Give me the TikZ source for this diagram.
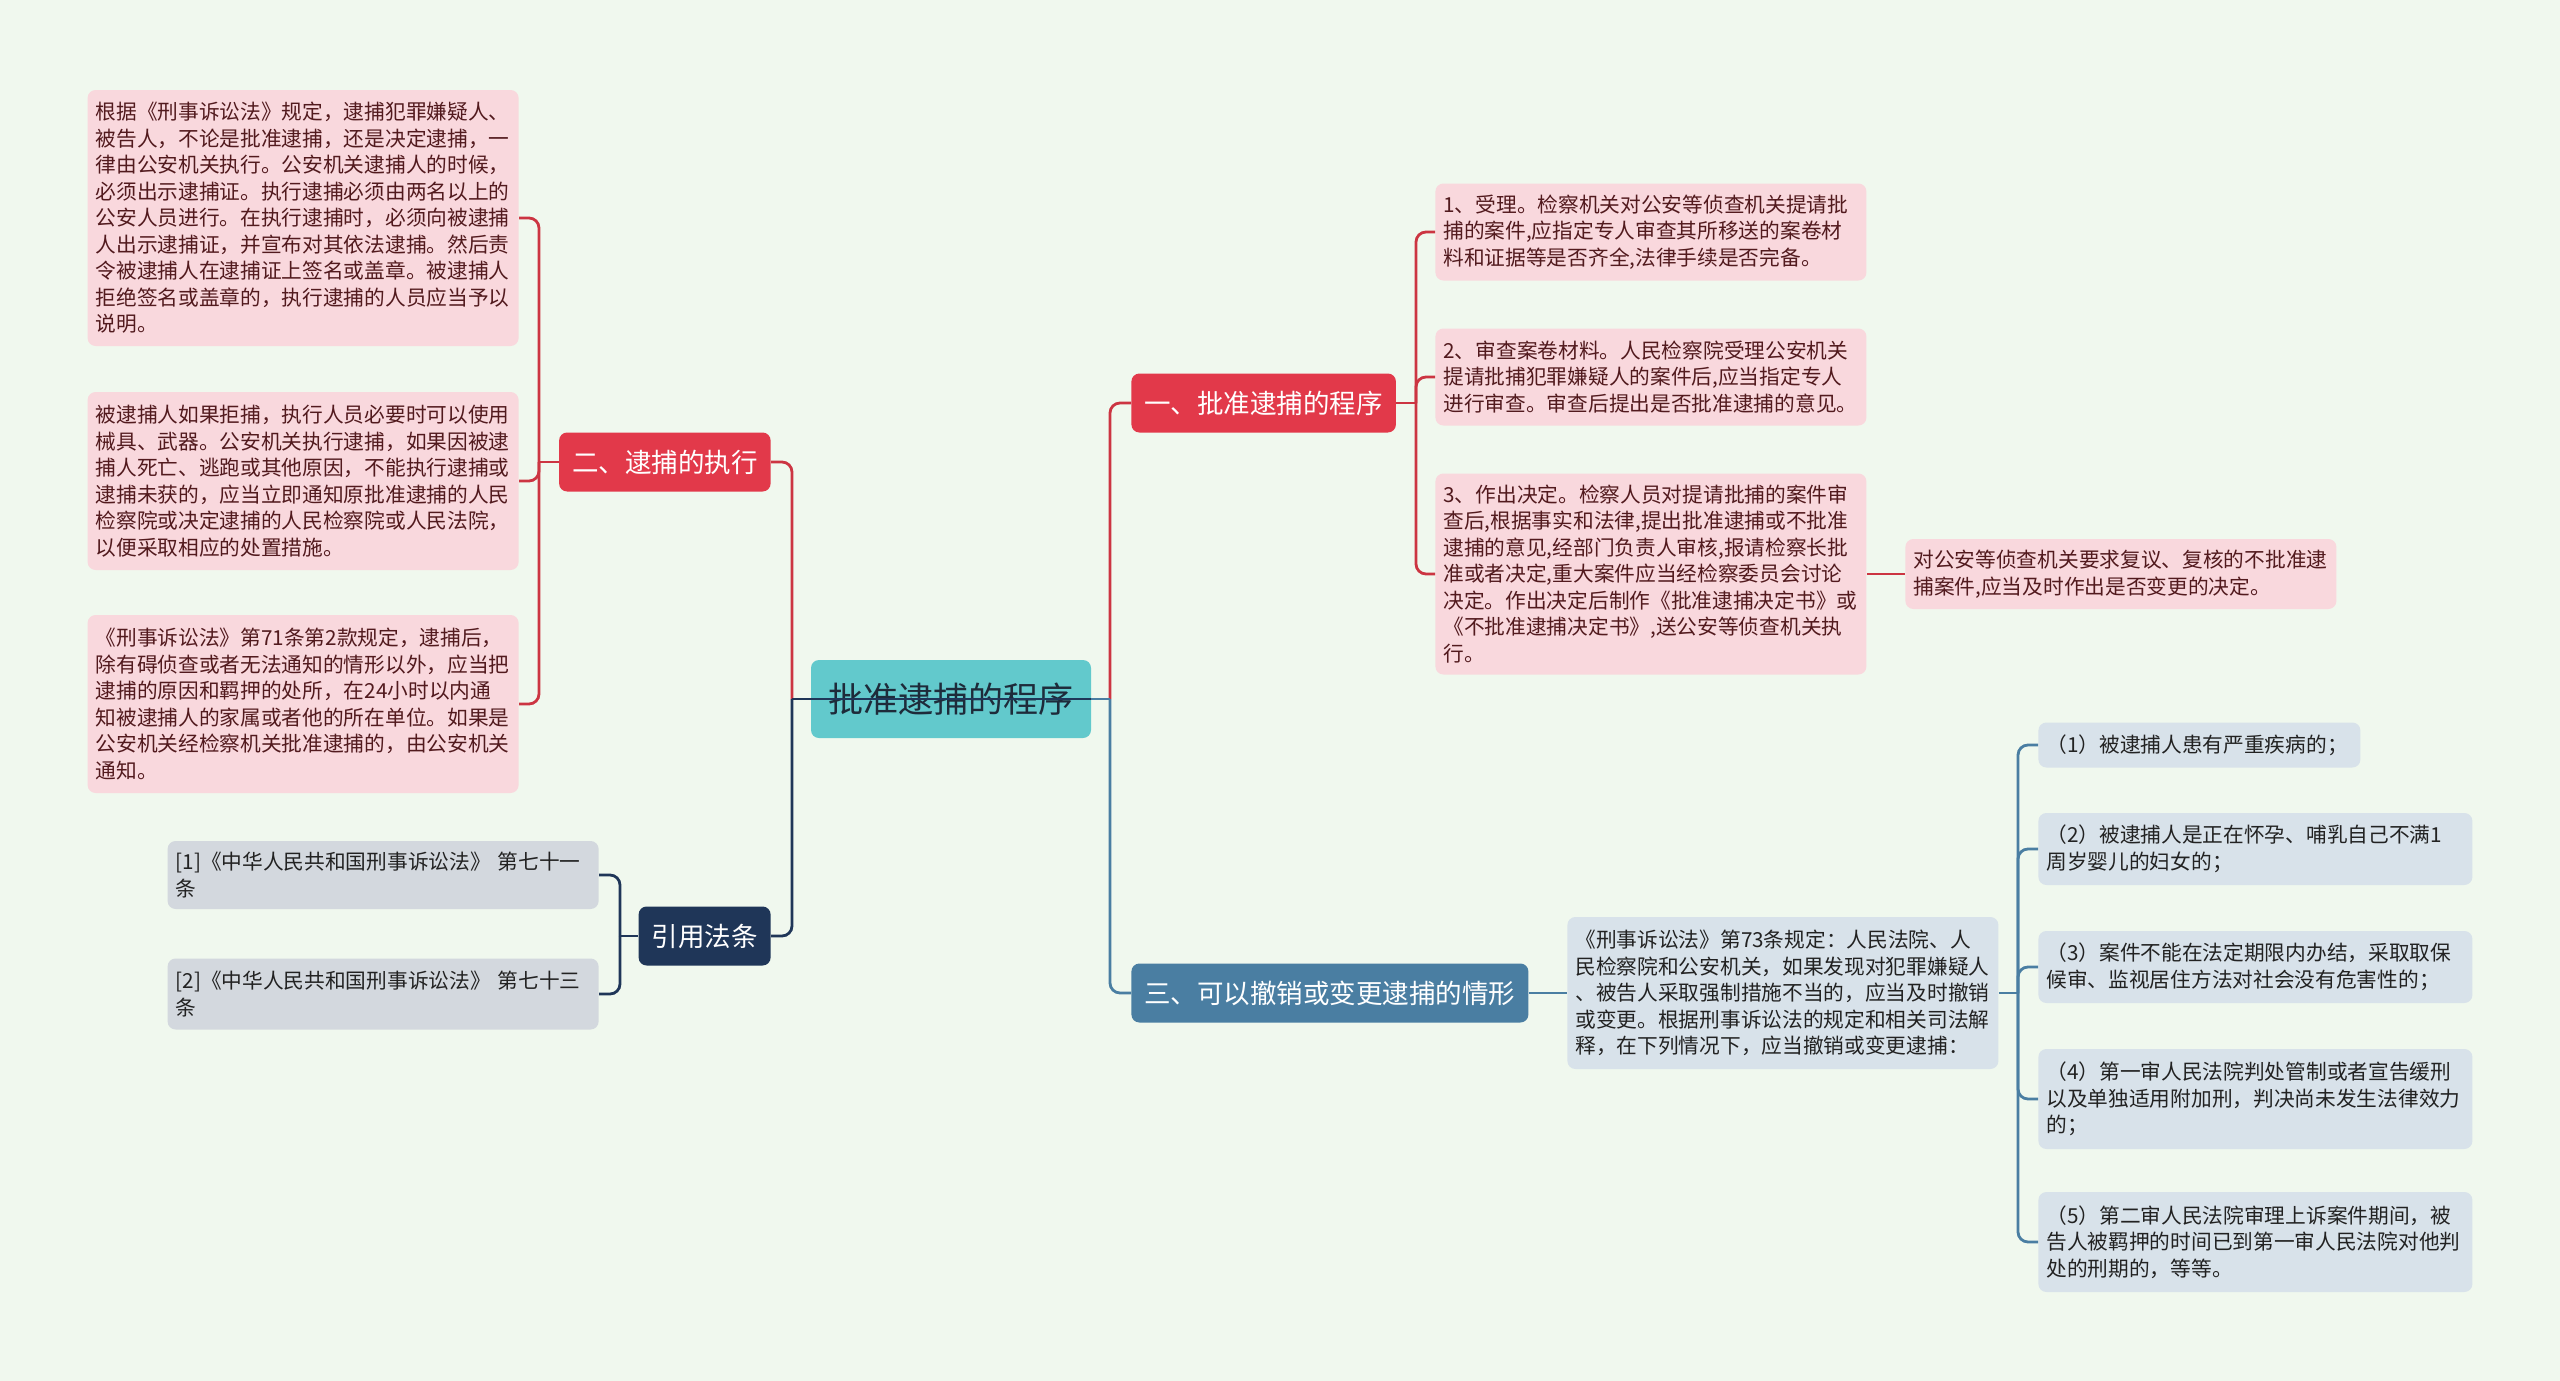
\documentclass[tikz,border=0pt]{standalone}
\usepackage{fontspec}
\setmainfont{Noto Sans CJK SC}
\usepackage{tikz}
\definecolor{bgcol}{HTML}{F0F8EE}
\definecolor{rootfill}{HTML}{62C9CC}
\definecolor{roottext}{HTML}{1E2B3A}
\definecolor{redfill}{HTML}{E2394A}
\definecolor{redline}{HTML}{CC3542}
\definecolor{pinkfill}{HTML}{F9D8DD}
\definecolor{pinktext}{HTML}{521A1E}
\definecolor{navyfill}{HTML}{1F3658}
\definecolor{grayfill}{HTML}{D3D8DE}
\definecolor{bluefill}{HTML}{4A7EA2}
\definecolor{bluegray}{HTML}{D8E2EA}
\definecolor{darktext}{HTML}{222222}

\begin{document}
\begin{tikzpicture}[x=0.5pt,y=-0.5pt,
    rootbox/.style={rounded corners=4pt, fill=rootfill, text=roottext,
      font=\fontsize{17.5}{21}\selectfont, inner xsep=8.75pt, minimum height=39pt},
    topicbox/.style={rounded corners=4pt, text=white,
      font=\fontsize{13.25}{16}\selectfont, inner xsep=6.5pt, minimum height=29.5pt},
    notebox/.style={rounded corners=4pt, align=left, text width=207.5pt,
      font=\fontsize{10.35}{13.25}\selectfont, inner xsep=4pt, inner ysep=4pt},
    pinkbox/.style={notebox, fill=pinkfill, text=pinktext},
    graybox/.style={notebox, fill=grayfill, text=darktext},
    bluebox/.style={notebox, fill=bluegray, text=darktext},
    redwire/.style={draw=redline, line width=1.4pt},
    navywire/.style={draw=navyfill, line width=1.4pt},
    bluewire/.style={draw=bluefill, line width=1.4pt},
  ]
    \useasboundingbox (0,0) rectangle (2560,1381);
    \fill[bgcol] (0,0) rectangle (2560,1381);

    % centre and main topics
    \node[rootbox] (root) at (951,699) {批准逮捕的程序};
    \node[topicbox, fill=redfill, anchor=west] (t1) at (1131,403) {一、批准逮捕的程序};
    \node[topicbox, fill=redfill, anchor=east] (t2) at (771,462) {二、逮捕的执行};
    \node[topicbox, fill=bluefill, anchor=west] (t3) at (1131,993) {三、可以撤销或变更逮捕的情形};
    \node[topicbox, fill=navyfill, anchor=east] (t4) at (771,936) {引用法条};

    % one
    \node[pinkbox, anchor=west, minimum height=48.5pt] (a1) at (1435,232)
      {1、受理。检察机关对公安等侦查机关提请批\\捕的案件,应指定专人审查其所移送的案卷材\\料和证据等是否齐全,法律手续是否完备。};
    \node[pinkbox, anchor=west, minimum height=48.5pt] (a2) at (1435,377)
      {2、审查案卷材料。人民检察院受理公安机关\\提请批捕犯罪嫌疑人的案件后,应当指定专人\\进行审查。审查后提出是否批准逮捕的意见。};
    \node[pinkbox, anchor=west, minimum height=100.5pt] (a3) at (1435,574)
      {3、作出决定。检察人员对提请批捕的案件审\\查后,根据事实和法律,提出批准逮捕或不批准\\逮捕的意见,经部门负责人审核,报请检察长批\\准或者决定,重大案件应当经检察委员会讨论\\决定。作出决定后制作《批准逮捕决定书》或\\《不批准逮捕决定书》,送公安等侦查机关执\\行。};
    \node[pinkbox, anchor=west, minimum height=35pt] (a3a) at (1905,574)
      {对公安等侦查机关要求复议、复核的不批准逮\\捕案件,应当及时作出是否变更的决定。};

    % two
    \node[pinkbox, anchor=east, minimum height=128pt] (b1) at (519,218)
      {根据《刑事诉讼法》规定，逮捕犯罪嫌疑人、\\被告人，不论是批准逮捕，还是决定逮捕，一\\律由公安机关执行。公安机关逮捕人的时候，\\必须出示逮捕证。执行逮捕必须由两名以上的\\公安人员进行。在执行逮捕时，必须向被逮捕\\人出示逮捕证，并宣布对其依法逮捕。然后责\\令被逮捕人在逮捕证上签名或盖章。被逮捕人\\拒绝签名或盖章的，执行逮捕的人员应当予以\\说明。};
    \node[pinkbox, anchor=east, minimum height=89pt] (b2) at (519,481)
      {被逮捕人如果拒捕，执行人员必要时可以使用\\械具、武器。公安机关执行逮捕，如果因被逮\\捕人死亡、逃跑或其他原因，不能执行逮捕或\\逮捕未获的，应当立即通知原批准逮捕的人民\\检察院或决定逮捕的人民检察院或人民法院，\\以便采取相应的处置措施。};
    \node[pinkbox, anchor=east, minimum height=89pt] (b3) at (519,704)
      {《刑事诉讼法》第71条第2款规定，逮捕后，\\除有碍侦查或者无法通知的情形以外，应当把\\逮捕的原因和羁押的处所，在24小时以内通\\知被逮捕人的家属或者他的所在单位。如果是\\公安机关经检察机关批准逮捕的，由公安机关\\通知。};

    % three
    \node[bluebox, anchor=west, minimum height=76pt] (c0) at (1567,993)
      {《刑事诉讼法》第73条规定：人民法院、人\\民检察院和公安机关，如果发现对犯罪嫌疑人\\、被告人采取强制措施不当的，应当及时撤销\\或变更。根据刑事诉讼法的规定和相关司法解\\释，在下列情况下，应当撤销或变更逮捕：};
    \node[bluebox, anchor=west, text width=153pt, minimum height=22.5pt] (c1) at (2038,745)
      {（1）被逮捕人患有严重疾病的；};
    \node[bluebox, anchor=west, text width=209pt, minimum height=36pt] (c2) at (2038,849)
      {（2）被逮捕人是正在怀孕、哺乳自己不满1\\周岁婴儿的妇女的；};
    \node[bluebox, anchor=west, text width=209pt, minimum height=36pt] (c3) at (2038,967)
      {（3）案件不能在法定期限内办结，采取取保\\候审、监视居住方法对社会没有危害性的；};
    \node[bluebox, anchor=west, text width=209pt, minimum height=50pt] (c4) at (2038,1099)
      {（4）第一审人民法院判处管制或者宣告缓刑\\以及单独适用附加刑，判决尚未发生法律效力\\的；};
    \node[bluebox, anchor=west, text width=209pt, minimum height=50pt] (c5) at (2038,1242)
      {（5）第二审人民法院审理上诉案件期间，被\\告人被羁押的时间已到第一审人民法院对他判\\处的刑期的，等等。};

    % cited articles
    \node[graybox, anchor=east, minimum height=34pt] (d1) at (599,875)
      {[1]《中华人民共和国刑事诉讼法》 第七十一\\条};
    \node[graybox, anchor=east, minimum height=35.5pt] (d2) at (599,994)
      {[2]《中华人民共和国刑事诉讼法》 第七十三\\条};

    % junctions
    \coordinate (jl) at (792,699);
    \coordinate (jr) at (1110,699);
    \coordinate (j1) at (1416,403);
    \coordinate (j2) at (539,462);
    \coordinate (j3) at (2018,993);
    \coordinate (j4) at (620,936);

    % wires from the centre
    \draw[redwire, rounded corners=5pt] (jr) |- (t1);
    \draw[redwire, rounded corners=5pt] (jl) |- (t2);
    \draw[bluewire] (root.east) -- (jr);
    \draw[bluewire, rounded corners=5pt] (jr) |- (t3);
    \draw[navywire] (root.east) -- (jl);
    \draw[navywire, rounded corners=5pt] (jl) |- (t4);

    % wires to the notes
    \draw[redwire] (t1) -- (j1);
    \foreach \n in {a1,a2,a3}
      \draw[redwire, rounded corners=5pt] (j1) |- (\n);
    \draw[redwire] (a3) -- (a3a);
    \draw[redwire] (t2) -- (j2);
    \foreach \n in {b1,b2,b3}
      \draw[redwire, rounded corners=5pt] (j2) |- (\n);
    \draw[bluewire] (t3) -- (c0);
    \draw[bluewire] (c0) -- (j3);
    \foreach \n in {c1,c2,c3,c4,c5}
      \draw[bluewire, rounded corners=5pt] (j3) |- (\n);
    \draw[navywire] (t4) -- (j4);
    \foreach \n in {d1,d2}
      \draw[navywire, rounded corners=5pt] (j4) |- (\n);
\end{tikzpicture}
\end{document}
